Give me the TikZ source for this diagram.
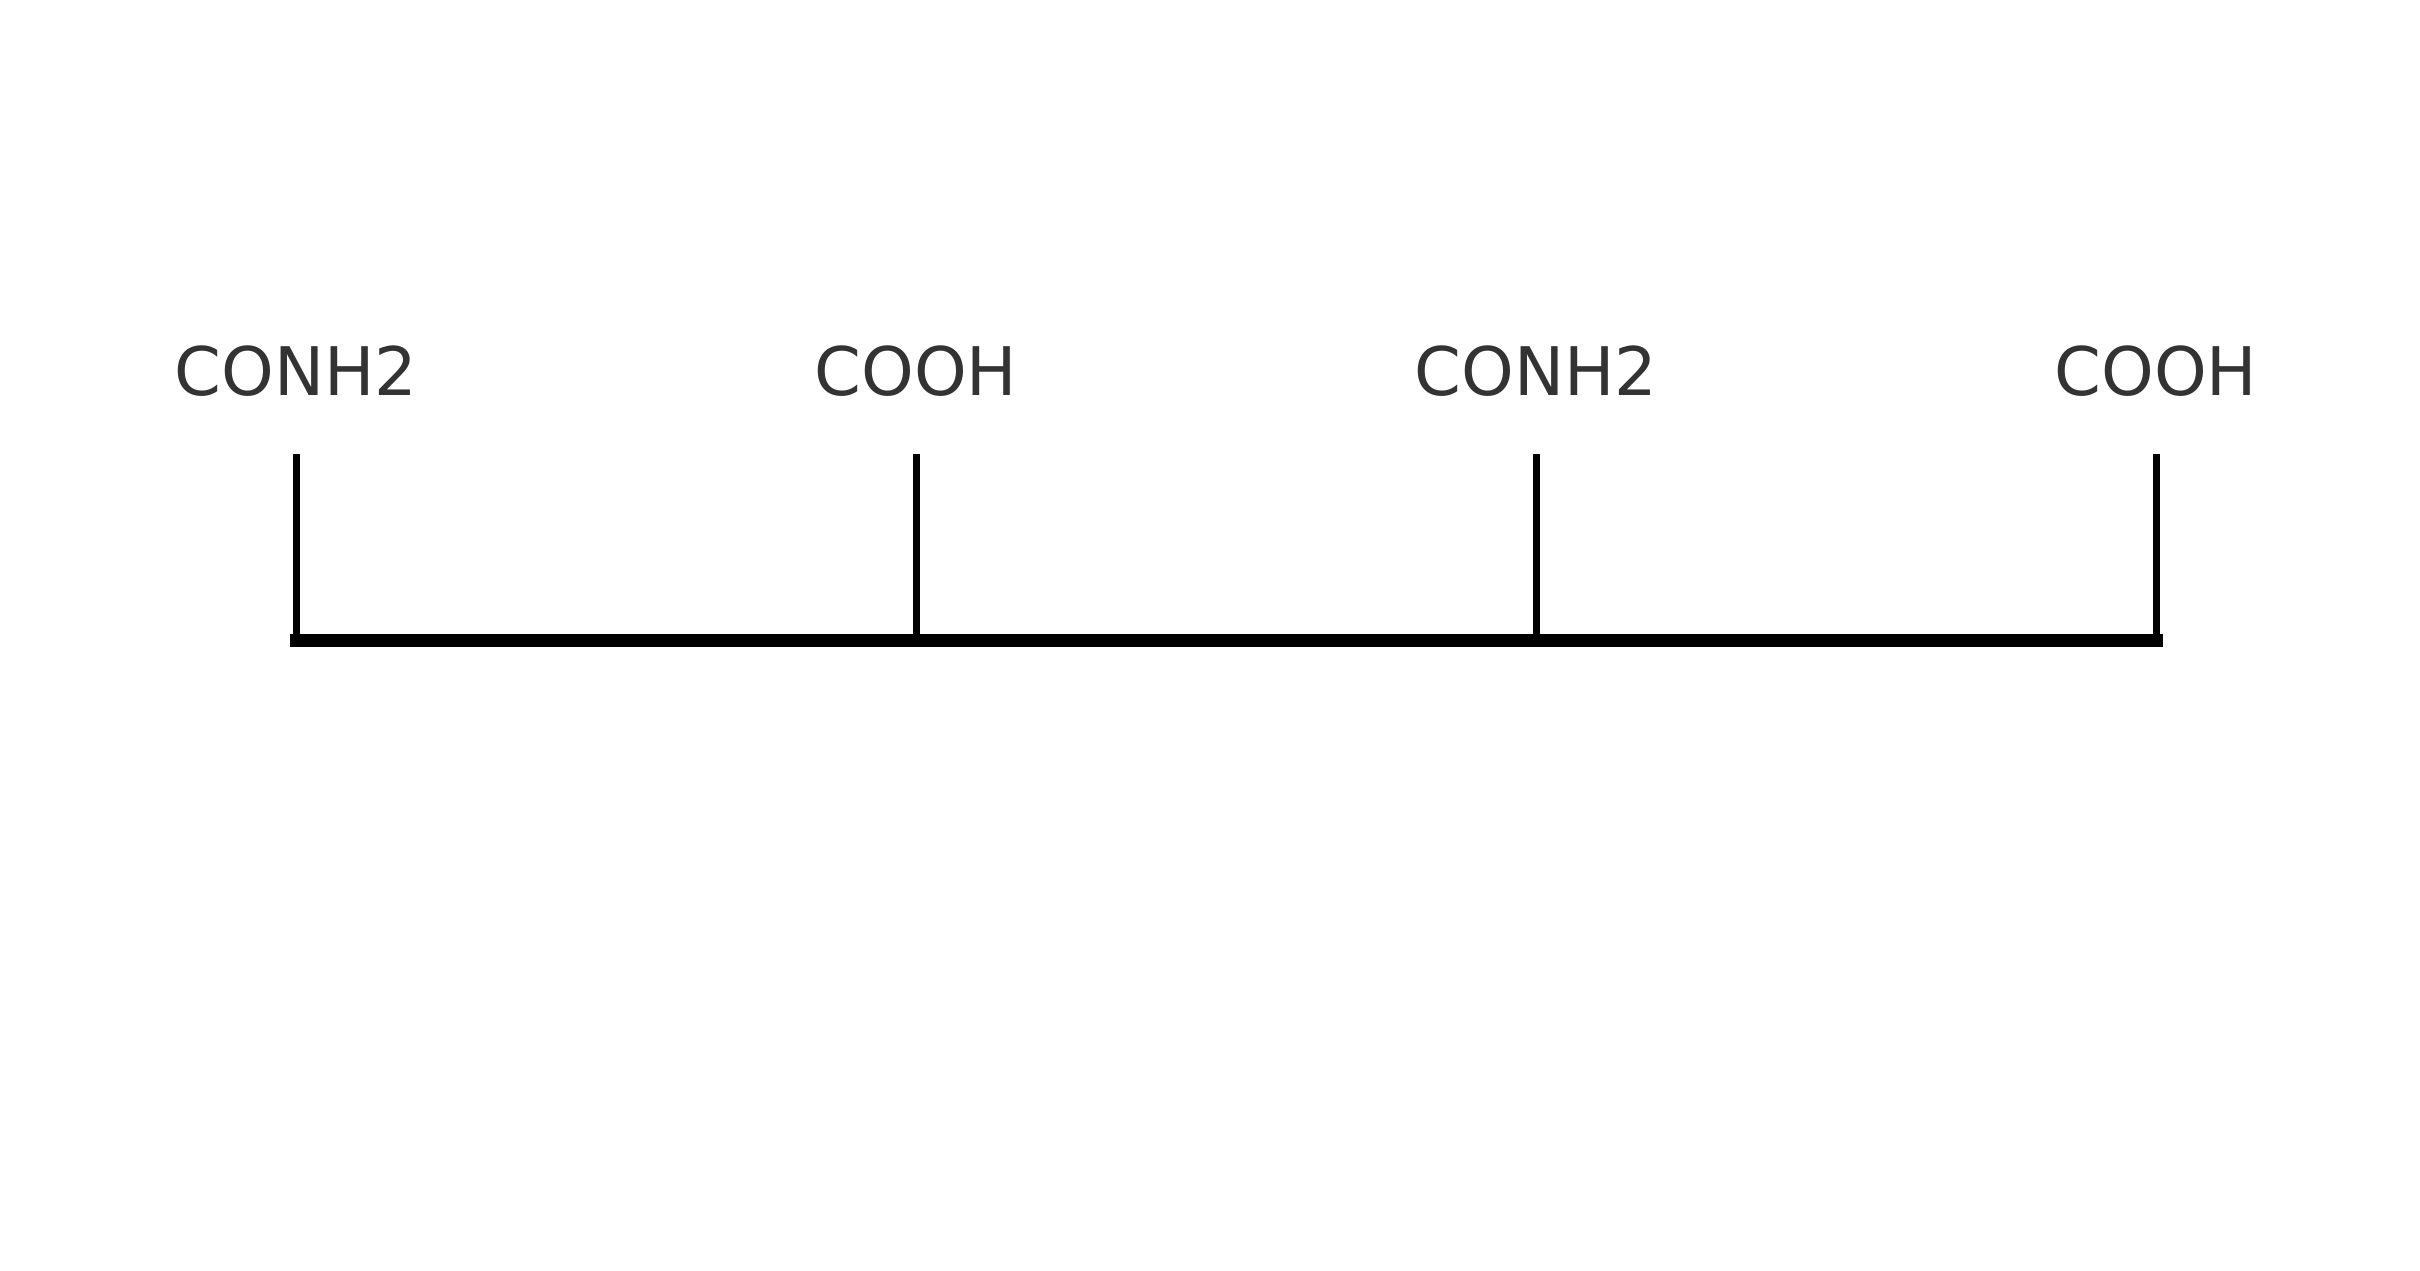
\documentclass[tikz,border=0pt]{standalone}
\usepackage{fontspec}
\setmainfont{DejaVu Sans}
\definecolor{labelgrey}{HTML}{333333}
\begin{document}
\begin{tikzpicture}[x=0.5pt,y=-0.5pt,
  grouplabel/.style={font=\fontsize{33.5pt}{40pt}\selectfont, text=labelgrey, anchor=base, inner sep=0pt},
  tick/.style={draw=black, line width=3.5pt},
  backbone/.style={draw=black, line width=6.5pt, line cap=rect}]
\useasboundingbox (0,0) rectangle (2420,1270);
\foreach \i/\x/\t in {1/296/CONH2, 2/916/COOH, 3/1536/CONH2, 4/2156/COOH}{
  \node[grouplabel] (l\i) at (\x,395) {\t};
  \coordinate (t\i) at (\x,454);
  \coordinate (b\i) at (\x,640);
}
\foreach \i in {1,...,4}{\draw[tick] (t\i) -- (b\i);}
\draw[backbone] (b1) -- (b4);
\end{tikzpicture}
\end{document}
